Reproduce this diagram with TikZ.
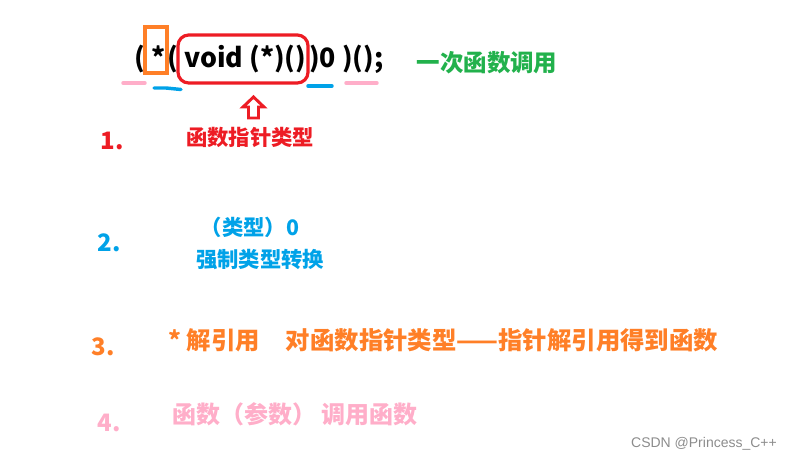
\documentclass[tikz,border=0pt]{standalone}
\usepackage{fontspec}
\setmainfont{Noto Sans CJK SC}
\newfontfamily\wmfont{Liberation Sans}
\definecolor{cred}{RGB}{237,28,36}
\definecolor{corange}{RGB}{255,127,39}
\definecolor{cblue}{RGB}{0,162,232}
\definecolor{cgreen}{RGB}{34,177,76}
\definecolor{cpink}{RGB}{255,174,201}
\definecolor{cgray}{RGB}{140,140,140}
\tikzset{
  code/.style={inner sep=0pt, font=\bfseries\fontsize{20}{24}\selectfont, text=black},
  lbl/.style={inner sep=0pt, font=\bfseries\fontsize{16}{19}\selectfont},
  biglbl/.style={inner sep=0pt, font=\bfseries\fontsize{18.3}{22}\selectfont},
  num/.style={inner sep=0pt, font=\bfseries\fontsize{18}{22}\selectfont},
  obox/.style={draw=corange, line width=2.4pt, minimum width=16.5pt, minimum height=34.5pt, inner sep=0pt},
  rbox/.style={draw=cred, line width=2.4pt, rounded corners=8pt, minimum width=97.5pt, minimum height=36pt, inner sep=0pt},
  uline/.style={line width=2.6pt, line cap=round},
}
\begin{document}
\begin{tikzpicture}[x=0.75pt,y=-0.75pt]
\useasboundingbox (0,0) rectangle (792,466);
% code line
\node[code, anchor=base west] (p1) at (134,68) {(};
\node[code, anchor=base west] (star) at (151,68) {*};
\node[code, anchor=base west] (p2) at (167,68) {(};
\node[code, anchor=base west] (vd) at (184,68) {void (*)()};
\node[code, anchor=base west] (rest) at (309,68) {)0 )();};
\node[obox] (ob) at (156,50) {};
\node[rbox] (rb) at (243,59) {};
% underlines
\draw[uline, cpink] (123,83) -- (145,83);
\draw[uline, cblue] (154,88) -- (166,88) -- (181,89.5);
\draw[uline, cblue] (308,86) -- (332,86);
\draw[uline, cpink] (346,83) -- (377,83);
% green label
\node[lbl, text=cgreen, font=\bfseries\fontsize{17.6}{21}\selectfont] (g) at (487,63) {一次函数调用};
% arrow
\draw[cred, line width=2.2pt, line join=miter, fill=white]
  (253.5,97) -- (264,107) -- (258.5,107) -- (258.5,118) -- (248.5,118) -- (248.5,107) -- (243,107) -- cycle;
% row 1
\node[num, text=cred] (n1) at (112,141) {1.};
\node[lbl, text=cred] (t1) at (250,137) {函数指针类型};
% row 2
\node[num, text=cblue] (n2) at (109,243) {2.};
\node[lbl, text=cblue] (t2a) at (250,227) {（类型）0};
\node[lbl, text=cblue] (t2b) at (260,260) {强制类型转换};
% row 3
\node[num, text=corange] (n3) at (103,347) {3.};
\node[biglbl, text=corange] (t3a) at (214,340) {* 解引用};
\node[biglbl, text=corange] (t3b) at (502,340) {对函数指针类型——指针解引用得到函数};
% row 4
\node[num, text=cpink] (n4) at (109,423) {4.};
\node[biglbl, font=\bfseries\fontsize{18}{22}\selectfont, text=cpink] (t4) at (295,414) {函数（参数） 调用函数};
% watermark
\node[inner sep=0pt, text=cgray, font=\wmfont\fontsize{10.5}{12}\selectfont] (wm) at (704,444) {CSDN @Princess\_C++};
\end{tikzpicture}
\end{document}
